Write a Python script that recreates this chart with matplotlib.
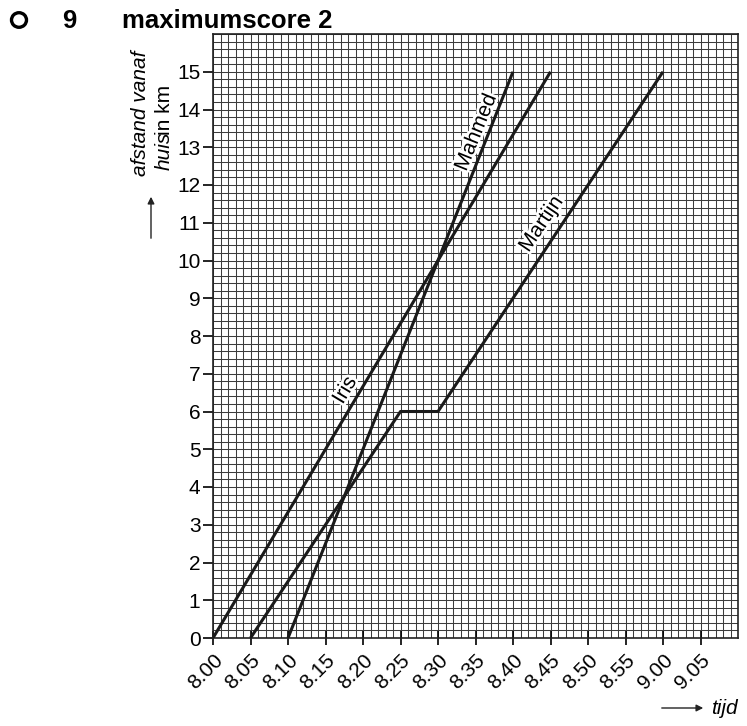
import numpy as np
import matplotlib
matplotlib.use("Agg")
from matplotlib import pyplot as plt
from matplotlib.patches import FancyArrowPatch, Circle
from matplotlib.transforms import offset_copy
import matplotlib.patheffects as pe

plt.rcParams['font.family'] = ['Liberation Sans', 'DejaVu Sans']

# minutes after 8.00, distance in km
iris_t = [0, 45]
iris_d = [0, 15]
mahmed_t = [10, 40]
mahmed_d = [0, 15]
martijn_t = [5, 25, 30, 60]
martijn_d = [0, 6, 6, 15]

tick_min = list(range(0, 70, 5))
tick_lbl = ['8.00', '8.05', '8.10', '8.15', '8.20', '8.25', '8.30', '8.35',
            '8.40', '8.45', '8.50', '8.55', '9.00', '9.05']
km_ticks = list(range(0, 16))

W, H = 747, 726
fig = plt.figure(figsize=(W / 100, H / 100), dpi=100)
ax = fig.add_axes([213 / W, 1 - 638 / H, 525 / W, 604 / H])
ax.set_xlim(0, 70)
ax.set_ylim(0, 16)

# fine grid: every minute, every 0.2 km
for m in range(0, 71):
    ax.axvline(m, color='#3c3c3c', lw=0.75, zorder=1)
for k in np.arange(0, 16.01, 0.2):
    ax.axhline(k, color='#3c3c3c', lw=0.75, zorder=1)

ax.plot(iris_t, iris_d, color='#1a1a1a', lw=2.2, zorder=3, solid_capstyle='butt')
ax.plot(mahmed_t, mahmed_d, color='#1a1a1a', lw=2.2, zorder=3, solid_capstyle='butt')
ax.plot(martijn_t, martijn_d, color='#1a1a1a', lw=2.2, zorder=3, solid_capstyle='butt')

halo = [pe.withStroke(linewidth=4, foreground='white')]
ax.text(17.6, 6.56, 'Iris', rotation=59, fontsize=15, ha='center', va='center',
        path_effects=halo, zorder=4)
ax.text(35.1, 13.4, 'Mahmed', rotation=68, fontsize=15, ha='center', va='center',
        path_effects=halo, zorder=4)
ax.text(43.8, 10.97, 'Martijn', rotation=56, fontsize=15, ha='center', va='center',
        path_effects=halo, zorder=4)

ax.set_xticks(tick_min)
ax.set_xticklabels(tick_lbl, rotation=45, ha='right', va='top',
                   rotation_mode='anchor', fontsize=15)
for lab in ax.get_xticklabels():
    lab.set_transform(offset_copy(lab.get_transform(), fig=fig, x=8, y=-2,
                                  units='dots'))
ax.set_yticks(km_ticks)
ax.set_yticklabels([str(k) for k in km_ticks], fontsize=15)
ax.tick_params(axis='x', direction='inout', length=10, width=1.2, pad=4)
ax.tick_params(axis='y', direction='out', length=7, width=1.2, pad=2)
for s in ax.spines.values():
    s.set_linewidth(1.2)
    s.set_color('#222222')

# title line
fig.add_artist(Circle((19 / W, 1 - 20 / H), 7.5 / W, transform=fig.transFigure,
                      fill=False, lw=2.4, color='black'))
fig.text(62 / W, 1 - 21 / H, '9', fontsize=18.5, fontweight='bold',
         ha='left', va='center')
fig.text(122 / W, 1 - 21 / H, 'maximumscore 2', fontsize=18.5,
         fontweight='bold', ha='left', va='center')

# y axis label
fig.text(140 / W, 1 - 113 / H, 'afstand vanaf', rotation=90, fontsize=15,
         style='italic', ha='center', va='center')
fig.text(164 / W, 1 - 170 / H, 'huis', rotation=90, fontsize=15,
         style='italic', ha='center', va='bottom')
fig.text(164 / W, 1 - 135 / H, 'in km', rotation=90, fontsize=15,
         ha='center', va='bottom')
fig.add_artist(FancyArrowPatch(
    (151 / W, 1 - 241 / H), (151 / W, 1 - 194 / H),
    transform=fig.transFigure, arrowstyle='-|>', mutation_scale=10,
    color='#222222', lw=1))

# x axis label
fig.add_artist(FancyArrowPatch(
    (659 / W, 1 - 708 / H), (706 / W, 1 - 708 / H),
    transform=fig.transFigure, arrowstyle='-|>', mutation_scale=10,
    color='#222222', lw=1))
fig.text(711 / W, 1 - 708 / H, 'tijd', fontsize=15, style='italic',
         ha='left', va='center')

fig.savefig('out.png', dpi=100)
